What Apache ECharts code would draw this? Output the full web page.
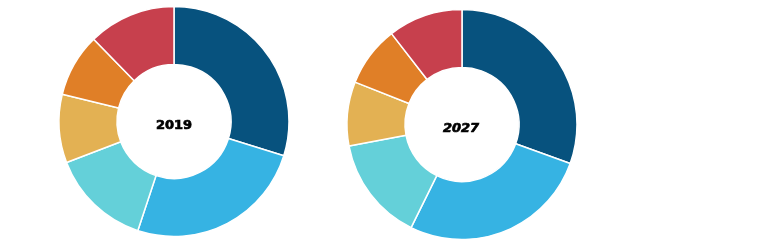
<!DOCTYPE html>
<html><head><meta charset="utf-8">
<script src="https://cdn.jsdelivr.net/npm/echarts@6/dist/echarts.min.js"></script>
<style>html,body{margin:0;padding:0;background:#fff}#c{width:770px;height:245px}</style>
</head><body><div id="c"></div>
<script>
const segments = ['Segment A','Segment B','Segment C','Segment D','Segment E','Segment F'];
const values2019 = [29.8, 25.3, 14.1, 9.6, 8.9, 12.3];
const values2027 = [30.5, 26.8, 14.7, 9.0, 8.5, 10.5];
const years = ['2019', '2027'];
const colors = ['#07527e', '#36b3e3', '#64d0d9', '#e3b153', '#e07f27', '#c7404d'];

const chart = echarts.init(document.getElementById('c'));
function mk(vals, center) {
  return {
    type: 'pie', radius: [57, 115], center: center, startAngle: 90, clockwise: true,
    silent: true, label: {show: false}, labelLine: {show: false},
    itemStyle: {borderColor: '#fff', borderWidth: 1.5},
    data: segments.map((n, i) => ({name: n, value: vals[i], itemStyle: {color: colors[i]}}))
  };
}
chart.setOption({
  animation: false,
  series: [mk(values2019, [174, 121.5]), mk(values2027, [462, 124.5])],
  graphic: [
    {type: 'text', x: 174, y: 125.5, style: {text: years[0], font: 'bold 13px "DejaVu Sans"', fill: '#000', stroke: '#000', lineWidth: 0.7, align: 'center', verticalAlign: 'middle'}},
    {type: 'text', x: 461, y: 129, style: {text: years[1], font: 'italic bold 13px "DejaVu Sans"', fill: '#000', stroke: '#000', lineWidth: 0.7, align: 'center', verticalAlign: 'middle'}}
  ]
});
</script></body></html>
